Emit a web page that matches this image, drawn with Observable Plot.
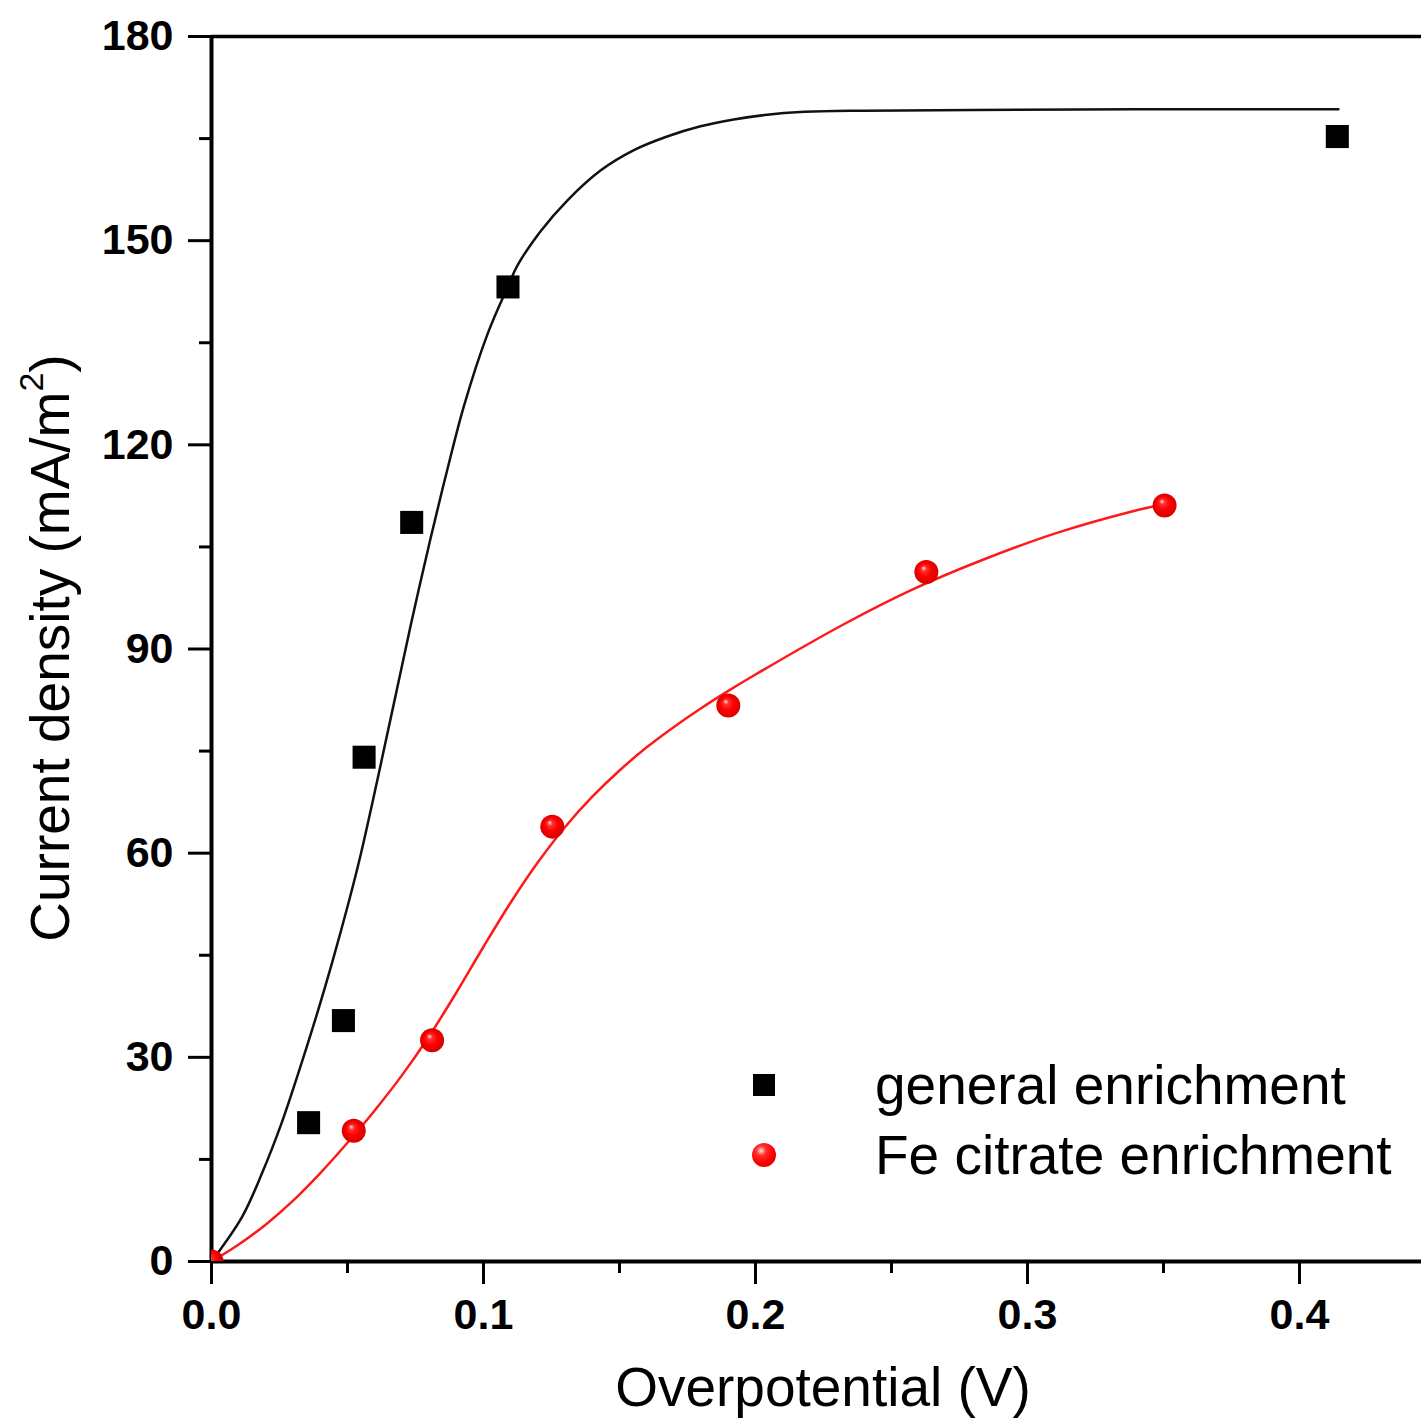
<!DOCTYPE html>
<html>
<head>
<meta charset="utf-8">
<script src="https://cdn.jsdelivr.net/npm/d3@7"></script>
<script src="https://cdn.jsdelivr.net/npm/@observablehq/plot@0.6"></script>
<style>
  html, body { margin: 0; padding: 0; background: #fff; }
  #wrap { position: relative; width: 1421px; height: 1419px; overflow: hidden;
          font-family: "Liberation Sans", Arial, sans-serif; color: #000; }
  #wrap svg { position: absolute; left: 0; top: 0; }
  .xtitle { position: absolute; left: 0; width: 1646px; top: 1360px; text-align: center;
            font-size: 55px; line-height: 55px; white-space: nowrap; }
  .ytitle { position: absolute; left: 44px; top: 648px; font-size: 55px; line-height: 55px;
            white-space: nowrap; transform: translate(-50%, -50%) rotate(-90deg); }
  .ytitle sup { font-size: 34px; position: relative; top: -6px; }
  .legend { position: absolute; left: 740px; top: 1050px; }
  .row { display: flex; align-items: center; height: 70px; font-size: 55px; line-height: 55px; }
  .sym { width: 48px; display: flex; justify-content: center; margin-right: 87px; }
  .sq { width: 22px; height: 22px; background: #000; }
  .ball { width: 24px; height: 24px; border-radius: 50%;
          background: radial-gradient(circle at 38% 32%, #ffe0e0 0%, #ff3030 22%, #ff0000 55%, #d80000 100%); }
</style>
</head>
<body>
<div id="wrap"></div>
<script>
// Measured current density vs overpotential, general enrichment (squares)
const generalV = [0.0357, 0.0485, 0.0561, 0.0736, 0.109, 0.4139];
const generalJ = [20.4, 35.4, 74.1, 108.6, 143.2, 165.3];

// Measured current density vs overpotential, Fe citrate enrichment (spheres)
const citrateV = [0, 0.0523, 0.0811, 0.1253, 0.190, 0.2628, 0.3504];
const citrateJ = [0, 19.2, 32.5, 63.9, 81.7, 101.3, 111.1];

// Fitted curve, general enrichment
const generalFitV = [0, 0.0113, 0.0186, 0.026, 0.0321, 0.0382, 0.0444, 0.0505, 0.0548, 0.0609,
  0.067, 0.0732, 0.0805, 0.0866, 0.0928, 0.1014, 0.1091, 0.1124, 0.121, 0.1308, 0.143,
  0.1553, 0.1675, 0.1798, 0.192, 0.2043, 0.2165, 0.24, 0.28, 0.34, 0.4143];
const generalFitJ = [0, 6.6, 13.0, 20.6, 27.9, 35.6, 44.0, 52.9, 59.7, 70.6,
  81.9, 93.4, 106.2, 116.2, 125.7, 136.2, 143.4, 146.3, 151.4, 155.9, 160.3,
  163.3, 165.3, 166.8, 167.8, 168.5, 168.9, 169.1, 169.2, 169.3, 169.3];

// Fitted curve, Fe citrate enrichment
const citrateFitV = [0, 0.01, 0.02, 0.03, 0.04, 0.05, 0.06, 0.07, 0.08, 0.09, 0.10,
  0.11, 0.12, 0.13, 0.14, 0.15, 0.16, 0.17, 0.18, 0.19, 0.20,
  0.2323, 0.2586, 0.2848, 0.3111, 0.3373, 0.3504];
const citrateFitJ = [0, 2.5, 5.45, 8.95, 13.0, 17.45, 22.2, 27.35, 33.1, 39.5, 46.25,
  52.75, 58.65, 63.85, 68.3, 72.15, 75.55, 78.55, 81.3, 83.85, 86.25,
  93.6, 98.9, 103.3, 107.1, 110.1, 111.3];

// Axis ticks
const xMajor = [0, 0.1, 0.2, 0.3, 0.4];
const xMinor = [0.05, 0.15, 0.25, 0.35];
const yMajor = [0, 30, 60, 90, 120, 150, 180];
const yMinor = [15, 45, 75, 105, 135, 165];

const seriesNames = ["general enrichment", "Fe citrate enrichment"];

const zip = (xs, ys) => xs.map((v, i) => ({v, j: ys[i]}));
const general = zip(generalV, generalJ);
const citrate = zip(citrateV, citrateJ);
const generalFit = zip(generalFitV, generalFitJ);
const citrateFit = zip(citrateFitV, citrateFitJ);

const W = 1421, H = 1419;
const mLeft = 211, mTop = 36, mBottom = 158, mRight = 0;
const pxPerVolt = 2720;
const xMax = (W - mLeft - mRight) / pxPerVolt;

const tickFont = {fontSize: 43, fontWeight: "bold", fontFamily: "Liberation Sans, Arial, sans-serif"};

const chart = Plot.plot({
  width: W,
  height: H,
  marginLeft: mLeft,
  marginTop: mTop,
  marginBottom: mBottom,
  marginRight: mRight,
  style: {background: "#fff", color: "#000", overflow: "visible"},
  x: {domain: [0, xMax], label: null},
  y: {domain: [0, 180], label: null},
  marks: [
    // frame lines
    Plot.ruleY([180], {stroke: "#000", strokeWidth: 3.5}),
    Plot.ruleY([0], {stroke: "#000", strokeWidth: 4}),
    Plot.ruleX([0], {stroke: "#000", strokeWidth: 4}),
    // x axis
    Plot.axisX({ticks: xMajor, tickSize: 23, tickPadding: 14, tickFormat: d3.format(".1f"),
      strokeWidth: 3, label: null, ...tickFont}),
    Plot.axisX({ticks: xMinor, tickSize: 12, strokeWidth: 3, text: null, label: null}),
    // y axis
    Plot.axisY({ticks: yMajor, tickSize: 23, tickPadding: 15, tickFormat: d3.format("d"),
      strokeWidth: 3, label: null, ...tickFont}),
    Plot.axisY({ticks: yMinor, tickSize: 12, strokeWidth: 3, text: null, label: null}),
    // fitted curves
    Plot.line(generalFit, {x: "v", y: "j", stroke: "#111", strokeWidth: 2.5, curve: "catmull-rom", clip: true}),
    Plot.line(citrateFit, {x: "v", y: "j", stroke: "#ff1a1a", strokeWidth: 2.5, curve: "catmull-rom", clip: true}),
    // measured points
    Plot.dot(general, {x: "v", y: "j", symbol: "square", r: 13, fill: "#000", clip: true}),
    Plot.dot(citrate, {x: "v", y: "j", r: 12, fill: "url(#ballGrad)", clip: true})
  ]
});

// radial gradient giving the red markers their shaded look
const defs = d3.select(chart).insert("defs", ":first-child");
const grad = defs.append("radialGradient").attr("id", "ballGrad")
  .attr("cx", "0.5").attr("cy", "0.5").attr("r", "0.5")
  .attr("fx", "0.38").attr("fy", "0.32");
grad.append("stop").attr("offset", "0").attr("stop-color", "#ffe0e0");
grad.append("stop").attr("offset", "0.22").attr("stop-color", "#ff3030");
grad.append("stop").attr("offset", "0.55").attr("stop-color", "#ff0000");
grad.append("stop").attr("offset", "1").attr("stop-color", "#d80000");

const wrap = document.getElementById("wrap");
wrap.appendChild(chart);

// axis titles
const xt = document.createElement("div");
xt.className = "xtitle";
xt.textContent = "Overpotential (V)";
wrap.appendChild(xt);

const yt = document.createElement("div");
yt.className = "ytitle";
yt.innerHTML = "Current density (mA/m<sup>2</sup>)";
wrap.appendChild(yt);

// legend
const legend = document.createElement("div");
legend.className = "legend";
const symbolClass = ["sq", "ball"];
seriesNames.forEach((name, i) => {
  const row = document.createElement("div");
  row.className = "row";
  const sym = document.createElement("div");
  sym.className = "sym";
  const s = document.createElement("div");
  s.className = symbolClass[i];
  sym.appendChild(s);
  const label = document.createElement("span");
  label.textContent = name;
  row.appendChild(sym);
  row.appendChild(label);
  legend.appendChild(row);
});
wrap.appendChild(legend);
</script>
</body>
</html>
